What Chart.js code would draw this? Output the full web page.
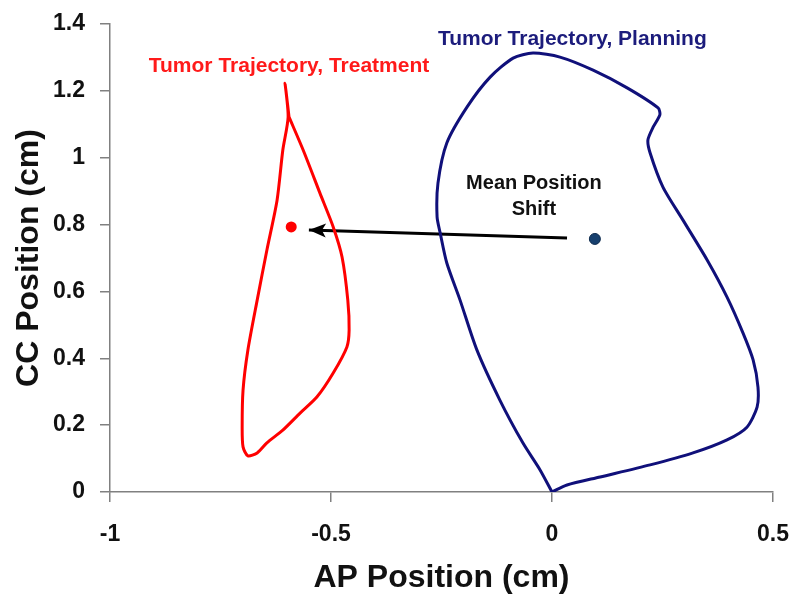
<!DOCTYPE html>
<html>
<head>
<meta charset="utf-8">
<script src="https://cdn.jsdelivr.net/npm/chart.js@4"></script>
<style>
  html, body { margin: 0; padding: 0; background: #fff; }
  #wrap { width: 800px; height: 605px; }
</style>
</head>
<body>
<div id="wrap"><canvas id="traj-chart" width="800" height="605"></canvas></div>
<script>
// treatment trajectory (red loop), AP / CC in cm
const treatmentAP = [-0.595, -0.563, -0.525, -0.495, -0.475, -0.462, -0.459, -0.464, -0.495, -0.532,
    -0.570, -0.609, -0.645, -0.667, -0.688, -0.699, -0.701, -0.699, -0.688, -0.667,
    -0.645, -0.622, -0.609, -0.597, -0.604, -0.595];
const treatmentCC = [1.122, 1.023, 0.894, 0.793, 0.703, 0.574, 0.485, 0.434, 0.356, 0.284,
    0.236, 0.185, 0.147, 0.117, 0.108, 0.135, 0.194, 0.305, 0.425, 0.574,
    0.724, 0.873, 1.023, 1.122, 1.223, 1.122];

// planning trajectory (blue loop)
const planningAP = [0, -0.027, -0.066, -0.118, -0.170, -0.208, -0.238, -0.253, -0.260, -0.258,
    -0.238, -0.192, -0.140, -0.088, -0.043, 0.018, 0.093, 0.170, 0.240, 0.244,
    0.229, 0.217, 0.222, 0.251, 0.296, 0.351, 0.396, 0.432, 0.455, 0.466,
    0.464, 0.441, 0.396, 0.319, 0.222, 0.109, 0.034, 0];
const planningCC = [0, 0.066, 0.147, 0.275, 0.425, 0.574, 0.685, 0.775, 0.823, 0.924,
    1.044, 1.152, 1.241, 1.298, 1.313, 1.301, 1.262, 1.209, 1.149, 1.128,
    1.092, 1.053, 1.014, 0.912, 0.814, 0.694, 0.583, 0.476, 0.395, 0.314,
    0.254, 0.194, 0.156, 0.117, 0.081, 0.045, 0.021, 0];

// mean positions
const meanTreatment = [-0.590, 0.793];
const meanPlanning = [0.097, 0.757];

// shift arrow, from planning mean towards treatment mean
const arrowAP = [0.034, -0.550];
const arrowCC = [0.760, 0.784];

const xTickLabels = ['-1', '-0.5', '0', '0.5'];
const yTickLabels = ['0', '0.2', '0.4', '0.6', '0.8', '1', '1.2', '1.4'];

const FONT = 'Arial, "Liberation Sans", sans-serif';

function toPoints(xs, ys) {
    return xs.map((x, i) => ({ x: x, y: ys[i] }));
}

// fixed axis box, no extra label padding pushed onto the chart area
function fixScale(size) {
    return s => {
        if (s.isHorizontal()) s.height = size; else s.width = size;
        s.paddingTop = s.paddingBottom = s.paddingLeft = s.paddingRight = 0;
    };
}

// text placed in data coordinates
const notes = [
    { text: 'Tumor Trajectory, Treatment', at: [-0.595, 1.273], color: '#ff1a1a', size: 21 },
    { text: 'Tumor Trajectory, Planning', at: [0.046, 1.355], color: '#1c1c7c', size: 21 },
    { text: 'Mean Position', at: [-0.041, 0.922], color: '#111', size: 20 },
    { text: 'Shift', at: [-0.041, 0.844], color: '#111', size: 20 }
];

const notesPlugin = {
    id: 'notes',
    afterDatasetsDraw(chart) {
        const { ctx, scales: { x, y } } = chart;
        ctx.save();

        // arrowhead at the end of the arrow dataset
        const pts = chart.getDatasetMeta(4).data;
        const a = pts[0], b = pts[1];
        const ang = Math.atan2(b.y - a.y, b.x - a.x);
        ctx.translate(b.x, b.y);
        ctx.rotate(ang);
        ctx.fillStyle = '#000';
        ctx.beginPath();
        ctx.moveTo(0, 0);
        ctx.lineTo(-17, -7);
        ctx.lineTo(-13, 0);
        ctx.lineTo(-17, 7);
        ctx.closePath();
        ctx.fill();
        ctx.setTransform(1, 0, 0, 1, 0, 0);

        ctx.textAlign = 'center';
        ctx.textBaseline = 'middle';
        notes.forEach(n => {
            ctx.font = 'bold ' + n.size + 'px ' + FONT;
            ctx.fillStyle = n.color;
            ctx.fillText(n.text, x.getPixelForValue(n.at[0]), y.getPixelForValue(n.at[1]));
        });
        ctx.restore();
    }
};

new Chart(document.getElementById('traj-chart'), {
    type: 'scatter',
    data: {
        datasets: [
            {
                label: 'Tumor Trajectory, Treatment',
                data: toPoints(treatmentAP, treatmentCC),
                showLine: true,
                borderColor: '#ff0000',
                borderWidth: 3,
                pointRadius: 0,
                tension: 0.25
            },
            {
                label: 'Tumor Trajectory, Planning',
                data: toPoints(planningAP, planningCC),
                showLine: true,
                borderColor: '#10107a',
                borderWidth: 3,
                pointRadius: 0,
                tension: 0.25
            },
            {
                label: 'Mean Treatment',
                data: [{ x: meanTreatment[0], y: meanTreatment[1] }],
                pointRadius: 5.5,
                backgroundColor: '#ff0000',
                borderColor: '#ff0000',
                borderWidth: 0
            },
            {
                label: 'Mean Planning',
                data: [{ x: meanPlanning[0], y: meanPlanning[1] }],
                pointRadius: 5.5,
                backgroundColor: '#17406e',
                borderColor: '#0d2a4d',
                borderWidth: 1
            },
            {
                label: 'Shift',
                data: toPoints(arrowAP, arrowCC),
                showLine: true,
                borderColor: '#000',
                borderWidth: 3,
                pointRadius: 0
            }
        ]
    },
    options: {
        responsive: false,
        animation: false,
        layout: { padding: { left: 0, top: 24, right: 27, bottom: 0 } },
        plugins: {
            legend: { display: false },
            tooltip: { enabled: false }
        },
        scales: {
            x: {
                type: 'linear',
                min: -1,
                max: 0.5,
                afterFit: fixScale(113),
                border: { color: '#808080', width: 1.5 },
                grid: { drawOnChartArea: false, drawTicks: true, tickLength: 10, color: '#808080', lineWidth: 1.5 },
                ticks: {
                    stepSize: 0.5,
                    autoSkip: false,
                    maxRotation: 0,
                    padding: 19,
                    color: '#111',
                    font: { family: FONT, size: 23, weight: 'bold' },
                    callback: (v, i) => xTickLabels[i]
                },
                title: {
                    display: true,
                    text: 'AP Position (cm)',
                    color: '#111',
                    padding: { top: 0, bottom: 8 },
                    font: { family: FONT, size: 32, weight: 'bold' }
                }
            },
            y: {
                type: 'linear',
                min: 0,
                max: 1.4,
                afterFit: fixScale(110),
                border: { color: '#808080', width: 1.5 },
                grid: { drawOnChartArea: false, drawTicks: true, tickLength: 10, color: '#808080', lineWidth: 1.5 },
                ticks: {
                    stepSize: 0.2,
                    autoSkip: false,
                    padding: 15,
                    color: '#111',
                    font: { family: FONT, size: 23, weight: 'bold' },
                    callback: (v, i) => yTickLabels[i]
                },
                title: {
                    display: true,
                    text: 'CC Position (cm)',
                    color: '#111',
                    padding: { top: 10, bottom: 0 },
                    font: { family: FONT, size: 32, weight: 'bold' }
                }
            }
        }
    },
    plugins: [notesPlugin]
});
</script>
</body>
</html>
